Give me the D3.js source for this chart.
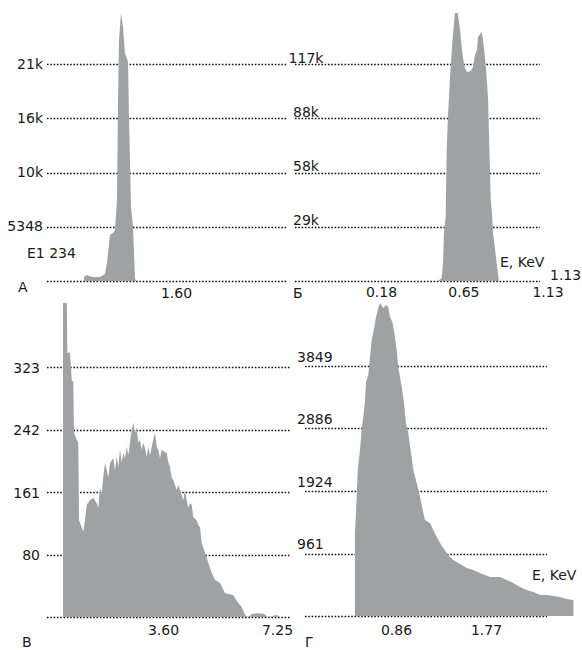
<!DOCTYPE html>
<html><head><meta charset="utf-8">
<script src="https://cdn.jsdelivr.net/npm/d3@7"></script>
<style>body{margin:0;background:#fff}svg{display:block}</style>
</head><body>
<svg id="c" width="582" height="650"></svg>
<script>
// ---- data: [energy (keV), counts] ----
const spectrumA = [[0.459,394],[0.492,591],[0.558,394],[0.657,394],[0.719,690],[0.744,1774],[0.781,4535],[0.819,4732],[0.843,5028],[0.868,7985],[0.881,17843],[0.893,23758],[0.918,26419],[0.943,25039],[0.967,22476],[1.005,21589],[1.017,16167],[1.042,7295],[1.067,5323],[1.079,2760],[1.091,296],[1.104,0]];
const spectrumB = [[0.505,0],[0.526,1615],[0.534,9688],[0.539,25834],[0.549,34445],[0.555,70504],[0.562,88265],[0.574,109793],[0.583,122710],[0.591,133474],[0.602,144238],[0.618,144238],[0.631,135088],[0.640,125939],[0.648,120019],[0.659,114637],[0.671,112484],[0.692,113022],[0.705,115175],[0.716,121633],[0.728,124324],[0.733,131321],[0.755,134012],[0.762,129706],[0.773,120557],[0.783,109793],[0.791,97414],[0.796,79654],[0.806,43594],[0.812,38212],[0.819,25834],[0.840,9688],[0.853,0]];
const spectrumV = [[0.398,450],[0.517,430],[0.536,341],[0.622,342],[0.654,323],[0.677,306],[0.728,304],[0.750,238],[0.837,229],[0.888,225],[0.911,125],[0.997,116],[1.048,110],[1.103,125],[1.157,145],[1.263,151],[1.368,154],[1.477,147],[1.528,141],[1.583,168],[1.631,158],[1.689,181],[1.743,199],[1.797,190],[1.849,180],[1.903,199],[2.009,205],[2.063,190],[2.118,207],[2.169,194],[2.223,216],[2.278,200],[2.329,212],[2.383,205],[2.438,220],[2.489,209],[2.543,225],[2.598,242],[2.649,251],[2.704,238],[2.758,245],[2.809,225],[2.864,229],[2.918,216],[2.969,225],[3.024,218],[3.078,207],[3.129,220],[3.184,209],[3.238,220],[3.289,229],[3.344,238],[3.398,220],[3.450,216],[3.504,205],[3.558,216],[3.664,213],[3.718,212],[3.770,200],[3.824,194],[3.879,180],[3.930,177],[4.039,164],[4.090,171],[4.144,164],[4.250,151],[4.304,164],[4.359,151],[4.410,141],[4.464,147],[4.519,145],[4.570,129],[4.679,125],[4.730,119],[4.785,116],[4.839,96],[4.945,83],[5.050,70],[5.159,57],[5.265,48],[5.425,44],[5.585,31],[5.851,28],[6.011,18],[6.120,13],[6.225,3],[6.321,0],[6.449,4],[6.642,5],[6.834,4],[6.962,0],[7.090,1],[7.218,3],[7.346,0]];
const spectrumG = [[0.445,1278],[0.463,1832],[0.473,2248],[0.496,2556],[0.513,2864],[0.529,3064],[0.547,3326],[0.557,3603],[0.580,3710],[0.597,3988],[0.614,4249],[0.641,4449],[0.658,4603],[0.681,4742],[0.698,4819],[0.732,4742],[0.759,4788],[0.782,4757],[0.799,4603],[0.823,4526],[0.843,4357],[0.867,4095],[0.883,3834],[0.918,3526],[0.941,3279],[0.961,2971],[0.984,2817],[1.012,2510],[1.035,2248],[1.069,2048],[1.103,1832],[1.130,1632],[1.153,1478],[1.204,1432],[1.237,1324],[1.272,1216],[1.305,1124],[1.338,1047],[1.373,970],[1.406,908],[1.439,862],[1.474,831],[1.524,785],[1.575,739],[1.642,708],[1.709,662],[1.760,631],[1.810,600],[1.912,600],[1.979,554],[2.046,508],[2.114,446],[2.181,400],[2.249,370],[2.316,323],[2.384,323],[2.451,308],[2.519,293],[2.586,262],[2.654,246]];

const yTicksA = [5348, 10696, 16044, 21392];
const yLabelsA = ["5348", "10k", "16k", "21k"];
const yTicksB = [29200, 58400, 87600, 116800];
const yLabelsB = ["29k", "58k", "88k", "117k"];
const yTicksV = [80.75, 161.5, 242.25, 323];
const yLabelsV = ["80", "161", "242", "323"];
const yTicksG = [962, 1924, 2887, 3849];
const yLabelsG = ["961", "1924", "2886", "3849"];

const xTicksA = [1.60];
const xLabelsA = ["1.60"];
const xTicksB = [0.18, 0.65, 1.13];
const xLabelsB = ["0.18", "0.65", "1.13"];
const xTicksV = [3.60, 7.25];
const xLabelsV = ["3.60", "7.25"];
const xTicksG = [0.86, 1.77];
const xLabelsG = ["0.86", "1.77"];

// ---- drawing ----
const svg = d3.select("#c");
const FONT = "DejaVu Sans";
const TXT = "#1a1a1a";
const FILL = "#a0a1a3";

svg.append("defs").append("clipPath").attr("id","clipV")
  .append("rect").attr("x",40).attr("y",303).attr("width",260).attr("height",320);

function panel(o){
  const g = svg.append("g");
  const x = d3.scaleLinear().domain(o.xDomain).range(o.xRange);
  const y = d3.scaleLinear().domain(o.yDomain).range(o.yRange);
  // dotted gridlines (incl. zero line)
  g.selectAll("line.grid").data([0, ...o.yTicks]).join("line")
    .attr("class","grid")
    .attr("x1", o.gridX[0]).attr("x2", o.gridX[1])
    .attr("y1", d => Math.round(y(d)) + 0.5).attr("y2", d => Math.round(y(d)) + 0.5)
    .attr("stroke", "#111").attr("stroke-width", 1.7)
    .attr("stroke-dasharray", "1.6,1.7");
  // spectrum area
  const area = d3.area().x(d => x(d[0])).y0(y(0)).y1(d => y(d[1]));
  const p = g.append("path").datum(o.data).attr("d", area).attr("fill", FILL);
  if (o.clip) p.attr("clip-path", "url(#" + o.clip + ")");
  // y labels
  const ya = (o.yRight ? d3.axisRight(y) : d3.axisLeft(y))
    .tickValues(o.yTicks).tickFormat((d,i) => o.yLabels[i]).tickSize(0).tickPadding(0);
  const yg = g.append("g").attr("transform", `translate(${o.yLabelX},0)`).call(ya);
  yg.select(".domain").remove();
  yg.selectAll("text").attr("x", 0).attr("dy", null).attr("y", o.yLabelDy)
    .attr("text-anchor", o.yAnchor)
    .attr("font-family", FONT).attr("font-size", 14).attr("fill", TXT);
  // x labels
  const xa = d3.axisBottom(x).tickValues(o.xTicks).tickFormat((d,i) => o.xLabels[i]).tickSize(0);
  const xg = g.append("g").attr("transform", `translate(0,${o.xLabelY})`).call(xa);
  xg.select(".domain").remove();
  xg.selectAll("text").attr("y", 0).attr("dy", null)
    .attr("font-family", FONT).attr("font-size", 14).attr("fill", TXT);
}

panel({data: spectrumA, xDomain:[0,1.6], xRange:[47,176], yDomain:[0,21392], yRange:[281,64],
  gridX:[47,287], yTicks:yTicksA, yLabels:yLabelsA, yLabelX:43, yAnchor:"end", yLabelDy:4,
  xTicks:xTicksA, xLabels:xLabelsA, xLabelY:298});
panel({data: spectrumB, xDomain:[0.18,1.13], xRange:[381,547.5], yDomain:[0,116800], yRange:[281,64],
  gridX:[295,540], yTicks:yTicksB, yLabels:yLabelsB, yLabelX:306, yAnchor:"middle", yLabelDy:-2, yRight:true,
  xTicks:xTicksB, xLabels:xLabelsB, xLabelY:297});
panel({data: spectrumV, xDomain:[3.6,7.25], xRange:[163,277], yDomain:[0,323], yRange:[617,367],
  gridX:[47,290], yTicks:yTicksV, yLabels:yLabelsV, yLabelX:40, yAnchor:"end", yLabelDy:5, clip:"clipV",
  xTicks:xTicksV, xLabels:xLabelsV, xLabelY:635});
panel({data: spectrumG, xDomain:[0.86,1.77], xRange:[396,486], yDomain:[0,3849], yRange:[616,366],
  gridX:[305,547], yTicks:yTicksG, yLabels:yLabelsG, yLabelX:297, yAnchor:"start", yLabelDy:-5, yRight:true,
  xTicks:xTicksG, xLabels:xLabelsG, xLabelY:635});

// annotations
const notes = [
  {t:"А", x:18, y:292}, {t:"Б", x:293, y:298}, {t:"В", x:22, y:647}, {t:"Г", x:305, y:647},
  {t:"E1 234", x:27, y:258}, {t:"E, KeV", x:500, y:267}, {t:"E, KeV", x:532, y:580},
  {t:"1.13", x:550, y:280}
];
svg.selectAll("text.note").data(notes).join("text").attr("class","note")
  .attr("x", d => d.x).attr("y", d => d.y).text(d => d.t)
  .attr("font-family", FONT).attr("font-size", 14).attr("fill", TXT);
</script>
</body></html>
